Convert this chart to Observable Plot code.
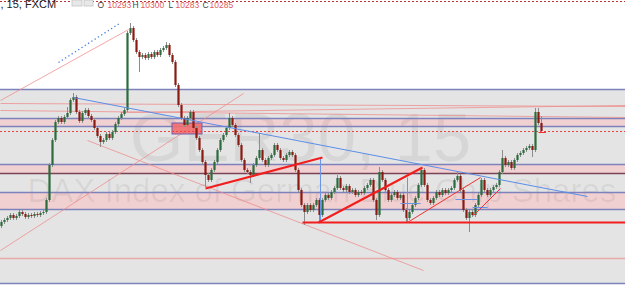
<!DOCTYPE html>
<html><head><meta charset="utf-8">
<script src="https://cdn.jsdelivr.net/npm/d3@7"></script>
<script src="https://cdn.jsdelivr.net/npm/@observablehq/plot@0.6"></script>
<style>
html,body{margin:0;padding:0;background:#fff;}
#chart{width:625px;height:303px;overflow:hidden;}
</style>
</head><body><div id="chart"></div>
<script>
// ---- data (price units, bar index) ----
const firstOpen = 10190;
const closes = [
10194,10196,10198,10201,10198,10200,10204,10202,10199,10201,
10200,10202,10201,10203,10204,10216,10251,10276,10294,10298,
10294,10299,10303,10316,10319,10304,10295,10303,10306,10300,
10296,10288,10280,10274,10276,10282,10278,10284,10292,10298,
10302,10306,10383,10388,10376,10364,10359,10361,10358,10362,
10359,10364,10361,10366,10368,10371,10361,10354,10331,10311,
10298,10291,10298,10304,10288,10278,10266,10254,10241,10236,
10246,10254,10266,10276,10281,10288,10298,10291,10281,10271,
10256,10246,10244,10241,10251,10258,10266,10256,10251,10258,
10261,10271,10266,10258,10256,10261,10264,10261,10246,10226,
10211,10204,10211,10206,10211,10216,10201,10216,10221,10218,
10224,10228,10238,10228,10226,10230,10224,10226,10221,10224,
10223,10228,10231,10236,10216,10201,10244,10236,10226,10216,
10221,10224,10218,10221,10206,10198,10204,10211,10218,10231,
10246,10231,10216,10213,10218,10224,10221,10226,10223,10226,
10228,10236,10240,10226,10206,10198,10204,10201,10211,10221,
10236,10226,10221,10226,10229,10231,10244,10258,10251,10254,
10248,10256,10261,10263,10266,10268,10270,10266,10304,10293,
10285
];
const wickHighs = [[22,10309],[24,10323],[43,10393],[55,10374],[76,10303],[86,10283],[112,10241],[126,10249],[140,10249],[152,10244],[167,10266],[178,10308],[179,10308],[180,10300]];
const wickLows  = [[33,10269],[46,10344],[68,10229],[83,10233],[101,10191],[106,10194],[125,10196],[135,10194],[156,10184],[177,10259],[180,10283]];

const xStart = -1/3, xEnd = 208;
const zone = [{y1:10327, y2:10133}];
const pinkBands = [{y1:10298,y2:10290},{y1:10252,y2:10243},{y1:10224,y2:10207}];
const blueLevels = [10327,10298,10290,10252,10224,10207,10133];
const darkLevels = [10243];
const pinkLevels = [10158];
const lastClose = 10285;
const topLevel = 10415;

const pinkSlants = [
  {x1:-0.33,y1:10316,x2:42.33,y2:10387},
  {x1:28.67,y1:10276,x2:140.67,y2:10146},
  {x1:-0.33,y1:10166,x2:80.67,y2:10323},
  {x1:-0.33,y1:10313,x2:208,y2:10310},
  {x1:-0.33,y1:10306,x2:208,y2:10299},
  {x1:39.67,y1:10304,x2:208,y2:10311}
];
const blueTrend = [{x1:24,y1:10319,x2:195.33,y2:10220}];
const blueDotted = [{x1:19,y1:10354,x2:39.33,y2:10393}];
const redThick = [
  {x1:68,y1:10228,x2:107,y2:10259},
  {x1:100.33,y1:10194,x2:208,y2:10194},
  {x1:105.67,y1:10194,x2:140.33,y2:10249}
];
const redThin = [
  {x1:135.33,y1:10194,x2:159.67,y2:10239},
  {x1:157.33,y1:10201,x2:166.33,y2:10228},
  {x1:179,y1:10284,x2:181.5,y2:10284}
];
const blueThin = [
  {x1:106.33,y1:10259,x2:106.33,y2:10194},
  {x1:135.33,y1:10239,x2:135.33,y2:10194},
  {x1:133,y1:10213,x2:139.67,y2:10213},
  {x1:151.33,y1:10217,x2:158.67,y2:10217},
  {x1:157,y1:10209,x2:162,y2:10209}
];
const redBox = [{x1:57,x2:67,y1:10293,y2:10282}];

const symbolText = "GER30, 15";
const descText = "DAX Index of German Blue Chip Shares";
const headText = ", 15, FXCM";
const ohlcLabels = ["O","H","L","C"];
const ohlcValues = ["10293","10300","10283","10285"];

// ---- build ----
const hiMap = new Map(wickHighs), loMap = new Map(wickLows);
const candles = closes.map((c,i)=>{
  const o = i ? closes[i-1] : firstOpen;
  return {i, o, c, h: hiMap.get(i) ?? Math.max(o,c)+2, l: loMap.get(i) ?? Math.min(o,c)-2, up: c>=o};
});
const up = candles.filter(d=>d.up), down = candles.filter(d=>!d.up);
const font = "Liberation Sans, Arial, sans-serif";

const labelX = [97,132,168,202], valueX = [107,140,175,209];
const legendMarks = [];
ohlcLabels.forEach((t,k)=>{
  legendMarks.push(Plot.text([t],{frameAnchor:"top-left",dx:labelX[k],dy:1,text:d=>d,fontSize:8.5,fill:"#444",fontFamily:font,lineAnchor:"top"}));
  legendMarks.push(Plot.text([ohlcValues[k]],{frameAnchor:"top-left",dx:valueX[k],dy:1,text:d=>d,fontSize:8.5,fill:"#e25a5a",fontFamily:font,lineAnchor:"top"}));
});

const chart = Plot.plot({
  width:625, height:303,
  marginTop:0, marginRight:0, marginBottom:0, marginLeft:0,
  x:{domain:[xStart,xEnd], axis:null},
  y:{domain:[10113,10416], axis:null},
  style:{background:"#fff", overflow:"hidden"},
  marks:[
    Plot.rect(zone,{x1:xStart,x2:xEnd,y1:"y1",y2:"y2",fill:"#e4e4e4"}),
    Plot.rect(pinkBands,{x1:xStart,x2:xEnd,y1:"y1",y2:"y2",fill:"#f0d0d0"}),
    Plot.ruleY(pinkLevels,{stroke:"#e8a8a8",strokeWidth:1.5}),
    Plot.text([symbolText],{x:[99.67],y:[10278],text:d=>d,fontSize:69,fill:"#000",fillOpacity:0.06,fontFamily:font,textAnchor:"middle"}),
    Plot.text([descText],{x:[8.67],y:[10225],text:d=>d,fontSize:33,fill:"#000",fillOpacity:0.06,fontFamily:font,textAnchor:"start"}),
    Plot.ruleY(blueLevels,{stroke:"#7d82bd",strokeWidth:1.3}),
    Plot.ruleY(darkLevels,{stroke:"#7a4458",strokeWidth:1.3}),
    Plot.link(pinkSlants,{x1:"x1",y1:"y1",x2:"x2",y2:"y2",stroke:"#ef8a8a",strokeOpacity:0.75,strokeWidth:1}),
    Plot.rect(redBox,{x1:"x1",x2:"x2",y1:"y1",y2:"y2",fill:"#f26d6d",fillOpacity:0.9,stroke:"#6e5fb0",strokeWidth:1}),
    Plot.ruleY([lastClose],{stroke:"#ee4040",strokeDasharray:"2,2",strokeWidth:1}),
    Plot.ruleY([topLevel],{stroke:"#b33",strokeDasharray:"2,2",strokeWidth:1}),
    Plot.ruleX(candles,{x:"i",y1:"l",y2:"h",stroke:"#8c8c8c",strokeWidth:1}),
    Plot.ruleX(up,{x:"i",y1:"o",y2:"c",stroke:"#2b6b3c",strokeWidth:2.2}),
    Plot.ruleX(down,{x:"i",y1:"o",y2:"c",stroke:"#8a1a12",strokeWidth:2.2}),
    Plot.link(blueTrend,{x1:"x1",y1:"y1",x2:"x2",y2:"y2",stroke:"#5c8de8",strokeWidth:1}),
    Plot.link(blueDotted,{x1:"x1",y1:"y1",x2:"x2",y2:"y2",stroke:"#4a7fe0",strokeWidth:1.3,strokeDasharray:"1.3,2.6"}),
    Plot.link(blueThin,{x1:"x1",y1:"y1",x2:"x2",y2:"y2",stroke:"#6b93e6",strokeWidth:1}),
    Plot.link(redThick,{x1:"x1",y1:"y1",x2:"x2",y2:"y2",stroke:"#f21d1d",strokeWidth:2}),
    Plot.link(redThin,{x1:"x1",y1:"y1",x2:"x2",y2:"y2",stroke:"#f23030",strokeWidth:1}),
    Plot.text([headText],{frameAnchor:"top-left",dx:0,dy:0,text:d=>d,fontSize:11,fill:"#222",fontFamily:font,lineAnchor:"top"}),
    Plot.rect([0,1],{x1:d=>[23.67,27.67][d],x2:d=>[27,30.67][d],y1:10416,y2:10410,fill:"#e8e8e8",stroke:"#c4c4c4",strokeWidth:0.8}),
    ...legendMarks
  ]
});
document.getElementById("chart").appendChild(chart);
</script></body></html>
